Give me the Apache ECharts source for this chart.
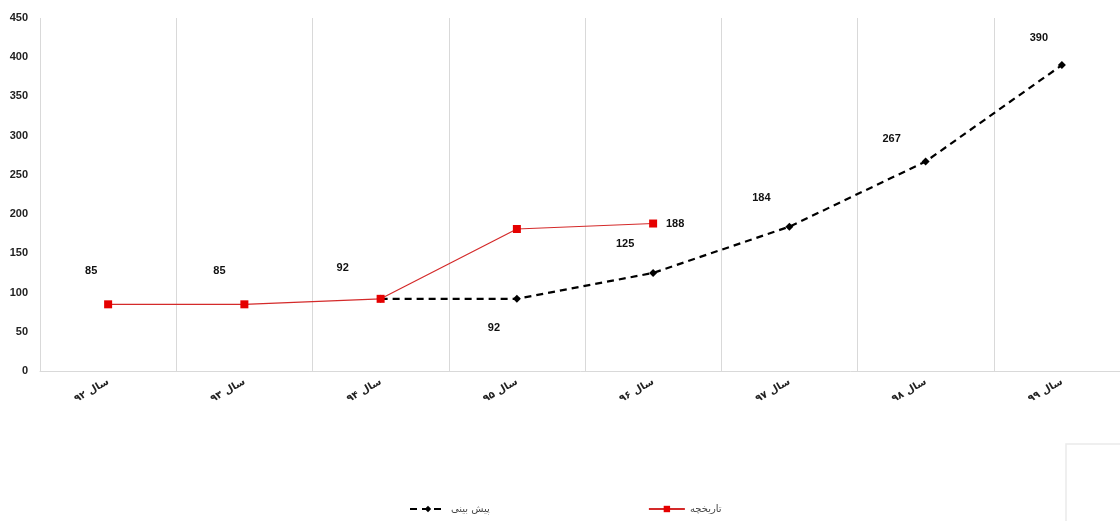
<!DOCTYPE html>
<html>
<head>
<meta charset="utf-8">
<script src="https://cdn.jsdelivr.net/npm/echarts@6/dist/echarts.min.js"></script>
<style>
    html, body { margin: 0; padding: 0; background: #fff; }
    #chart { width: 1120px; height: 521px; }
</style>
</head>
<body>
<div id="chart"></div>
<script>
    // سال‌ها و مقادیر خوانده شده از تصویر
    const years = ['سال ۹۲', 'سال ۹۳', 'سال ۹۴', 'سال ۹۵', 'سال ۹۶', 'سال ۹۷', 'سال ۹۸', 'سال ۹۹'];
    const history = [85, 85, 92, 181, 188, null, null, null];
    const forecast = [null, null, 92, 92, 125, 184, 267, 390];
    const historyName = 'تاریخچه';
    const forecastName = 'پیش بینی';

    const numFont = 'Liberation Sans, DejaVu Sans, sans-serif';
    const faFont = 'DejaVu Sans, sans-serif';

    // برچسب عددی بالا-چپ نقطه
    const baseLabel = {
        show: true,
        position: 'inside',
        offset: [-28, -29],
        color: '#111',
        fontSize: 11,
        fontWeight: 'bold',
        fontFamily: numFont,
        formatter: p => p.value
    };

    function buildHistory() {
        return history.map((v, i) => {
            if (v == null) return null;
            if (i == 3) return { value: v, label: { show: false } };
            if (i == 4) return { value: v, label: { offset: [22, 0] } };
            if (i == 2) return { value: v, label: { offset: [-38, -31] } };
            if (i == 0) return { value: v, label: { offset: [-17, -33] } };
            if (i == 1) return { value: v, label: { offset: [-25, -33] } };
            return v;
        });
    }

    function buildForecast() {
        return forecast.map((v, i) => {
            if (v == null) return null;
            if (i == 2) return { value: v, label: { show: false } };
            if (i == 3) return { value: v, label: { offset: [-23, 29] } };
            if (i == 6) return { value: v, label: { offset: [-34, -23] } };
            if (i == 7) return { value: v, label: { offset: [-23, -27] } };
            return v;
        });
    }

    const chart = echarts.init(document.getElementById('chart'), null, { renderer: 'canvas' });

    const option = {
        backgroundColor: '#fff',
        animation: false,
        grid: {
            left: 40,
            top: 18,
            width: 1090,
            height: 353,
            outerBoundsMode: 'none'
        },
        legend: {
            data: [forecastName, historyName],
            left: 404,
            bottom: 2,
            itemWidth: 36,
            itemHeight: 8,
            itemGap: 158,
            textStyle: { fontFamily: faFont, fontSize: 10, color: '#444' }
        },
        xAxis: {
            type: 'category',
            data: years,
            boundaryGap: true,
            axisTick: { show: false },
            axisLine: { lineStyle: { color: '#d9d9d9', width: 1 } },
            splitLine: { show: true, lineStyle: { color: '#d9d9d9', width: 1 } },
            axisLabel: {
                rotate: 30,
                margin: 10,
                color: '#222',
                fontSize: 10,
                fontWeight: 'bold',
                fontFamily: faFont
            }
        },
        yAxis: {
            type: 'value',
            min: 0,
            max: 450,
            interval: 50,
            axisLine: { show: false },
            axisTick: { show: false },
            splitLine: { show: false },
            axisLabel: {
                margin: 12,
                color: '#222',
                fontSize: 11,
                fontWeight: 'bold',
                fontFamily: numFont
            }
        },
        series: [
            {
                name: forecastName,
                type: 'line',
                data: buildForecast(),
                smooth: false,
                symbol: 'diamond',
                symbolSize: 8,
                itemStyle: { color: '#000' },
                lineStyle: { color: '#000', width: 2.2, type: [7, 5] },
                label: baseLabel,
                z: 2
            },
            {
                name: historyName,
                type: 'line',
                data: buildHistory(),
                symbol: 'rect',
                symbolSize: 8,
                itemStyle: { color: '#e50000' },
                lineStyle: { color: '#d42a2a', width: 1.2 },
                label: baseLabel,
                z: 3
            }
        ],
        graphic: [{
            type: 'rect',
            shape: { x: 1066, y: 444, width: 80, height: 100 },
            style: { fill: '#fff', stroke: '#eaeaea', lineWidth: 1.5 }
        }]
    };

    chart.setOption(option);
</script>
</body>
</html>
